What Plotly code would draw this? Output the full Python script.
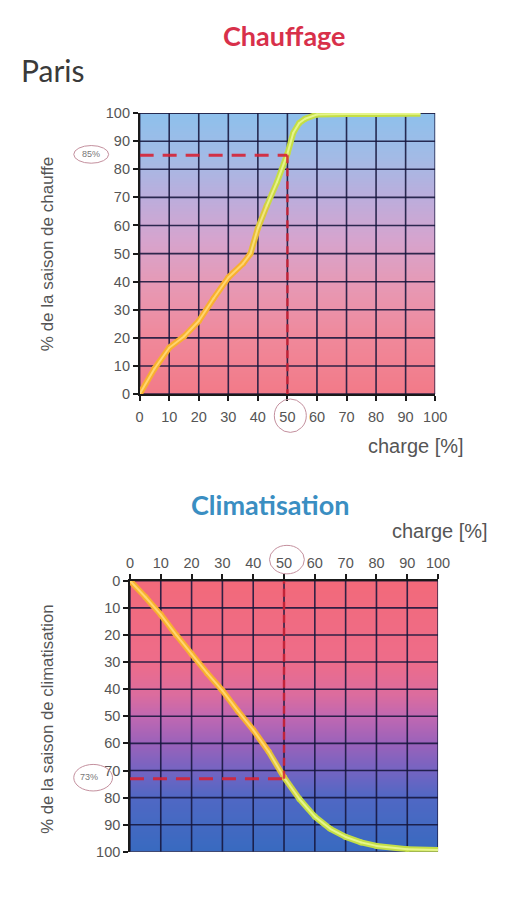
import plotly.graph_objects as go

W, H = 515, 908

# ---------------- data ----------------
axis_ticks = [0, 10, 20, 30, 40, 50, 60, 70, 80, 90, 100]
axis_tick_labels = ["0", "10", "20", "30", "40", "50", "60", "70", "80", "90", "100"]

# Chauffage: charge [%] vs % de la saison de chauffe
heat_load = [0, 5, 10, 15, 20, 25, 30, 35, 37.5, 40, 43, 46.5, 50, 52, 54, 56, 60, 70, 80, 90, 95]
heat_season = [0, 9, 16.5, 20.5, 26, 34, 41.5, 46.5, 50, 59, 67, 75.5, 85.5, 93, 96.5, 98, 99.5, 99.7, 99.7, 99.8, 99.8]

# Climatisation: charge [%] vs % de la saison de climatisation
cool_load = [0, 5, 10, 15, 20, 25, 30, 35, 40, 45, 50, 55, 60, 65, 70, 75, 80, 90, 100]
cool_season = [0, 6, 12.5, 20, 27, 34, 40.5, 48, 55, 63, 72.5, 80.5, 87, 91.5, 94.5, 96.5, 97.8, 99, 99.3]

heat_mark_load, heat_mark_season, heat_mark_label = 50, 85, "85%"
cool_mark_load, cool_mark_season, cool_mark_label = 50, 73, "73%"

bg_levels = [0, 10, 20, 30, 40, 50, 60, 70, 80, 90, 100]

# ---------------- helpers ----------------
def px(x):
    return x / W


def py(y):
    return 1 - y / H


ORANGE = (248, 176, 48)
GREEN = (196, 222, 70)
ORANGE_IN = (255, 214, 110)
GREEN_IN = (230, 245, 140)


def mix(c1, c2, t):
    t = max(0.0, min(1.0, t))
    return "rgb(%d,%d,%d)" % tuple(round(a + (b - a) * t) for a, b in zip(c1, c2))


fig = go.Figure()


def add_bg(xa, ya, colorscale):
    fig.add_trace(go.Heatmap(
        x=[axis_ticks[0], axis_ticks[-1]], y=bg_levels,
        z=[[v, v] for v in bg_levels], zmin=0, zmax=100,
        colorscale=colorscale, zsmooth="best", showscale=False,
        hoverinfo="skip", xaxis=xa, yaxis=ya))


def add_grid(xa, ya):
    gx, gy = [], []
    lo, hi = axis_ticks[0], axis_ticks[-1]
    for t in axis_ticks:
        gx += [t, t, None]
        gy += [lo, hi, None]
        gx += [lo, hi, None]
        gy += [t, t, None]
    fig.add_trace(go.Scatter(x=gx, y=gy, mode="lines",
                             line=dict(color="rgba(22,22,60,0.88)", width=1.6),
                             hoverinfo="skip", showlegend=False, xaxis=xa, yaxis=ya))


def add_curve(xs, ys, xa, ya, t0, t1):
    n = len(xs)
    for width, c_a, c_b in [(6, ORANGE, GREEN), (2, ORANGE_IN, GREEN_IN)]:
        for i in range(n - 1):
            xm = (xs[i] + xs[i + 1]) / 2
            col = mix(c_a, c_b, (xm - t0) / (t1 - t0))
            fig.add_trace(go.Scatter(x=xs[i:i + 2], y=ys[i:i + 2], mode="lines",
                                     line=dict(color=col, width=width),
                                     hoverinfo="skip", showlegend=False,
                                     xaxis=xa, yaxis=ya))
        fig.add_trace(go.Scatter(x=xs[1:-1], y=ys[1:-1], mode="markers",
                                 marker=dict(size=width, color=[mix(c_a, c_b, (v - t0) / (t1 - t0)) for v in xs[1:-1]],
                                             line=dict(width=0)),
                                 hoverinfo="skip", showlegend=False, xaxis=xa, yaxis=ya))


def add_marks(load, season, xa, ya, y_edge):
    dash = dict(color="rgba(214,34,52,0.9)", width=3, dash="14px,9px")
    fig.add_trace(go.Scatter(x=[axis_ticks[0], load], y=[season, season], mode="lines",
                             line=dash, hoverinfo="skip", showlegend=False, xaxis=xa, yaxis=ya))
    fig.add_trace(go.Scatter(x=[load, load], y=[season, y_edge], mode="lines",
                             line=dict(color="rgba(214,34,52,0.85)", width=2.5, dash="8px,5px"),
                             hoverinfo="skip", showlegend=False, xaxis=xa, yaxis=ya))


# ---------------- chauffage (top) ----------------
heat_scale = [[0.0, "#F27A88"], [0.2, "#F0889A"], [0.4, "#E69AB6"], [0.55, "#D6A4CE"],
              [0.7, "#BCADDC"], [0.85, "#A2BBE6"], [1.0, "#8EC0EC"]]
add_bg("x", "y", heat_scale)
add_grid("x", "y")
add_curve(heat_load, heat_season, "x", "y", 36, 46)
add_marks(heat_mark_load, heat_mark_season, "x", "y", axis_ticks[0])

# ---------------- climatisation (bottom) ----------------
cool_scale = [[0.0, "#F26A7A"], [0.3, "#EE6C8A"], [0.42, "#DC6C9E"], [0.5, "#C068B2"],
              [0.6, "#9A62BA"], [0.7, "#7464C2"], [0.8, "#5068C4"], [1.0, "#386AC0"]]
add_bg("x2", "y2", cool_scale)
add_grid("x2", "y2")
add_curve(cool_load, cool_season, "x2", "y2", 42, 55)
add_marks(cool_mark_load, cool_mark_season, "x2", "y2", axis_ticks[0])

# ---------------- axes ----------------
tickfont = dict(family="Liberation Sans, Arial, sans-serif", size=14.5, color="#555555")
common = dict(tickvals=axis_ticks, ticktext=axis_tick_labels, showgrid=False, zeroline=False,
              showline=True, linecolor="#1a1a1a", linewidth=1.5, ticks="outside", ticklen=5,
              tickcolor="#1a1a1a", tickwidth=1.5, tickfont=tickfont, layer="above traces",
              fixedrange=True)

fig.update_layout(
    width=W, height=H, margin=dict(l=0, r=0, t=0, b=0),
    paper_bgcolor="white", plot_bgcolor="white", showlegend=False,
    xaxis=dict(domain=[px(140), px(445)], range=[0, 100], anchor="y", ticklabelstandoff=4, **common),
    yaxis=dict(domain=[py(393), py(107)], range=[0, 100], anchor="x", **common),
    xaxis2=dict(domain=[px(130), px(448)], range=[0, 100], anchor="y2", side="top", **common),
    yaxis2=dict(domain=[py(859), py(583)], range=[100, 0], anchor="x2", **common),
)

# ---------------- texts ----------------
grey = "#555555"
ann = []
ann.append(dict(text="Paris", x=px(51), y=py(63), font=dict(family="Lato, sans-serif", size=30, color="#3a3a3a")))
ann.append(dict(text="<b>Chauffage</b>", x=px(290), y=py(28), font=dict(family="Lato, sans-serif", size=27, color="#D8304A")))
ann.append(dict(text="<b>Climatisation</b>", x=px(275), y=py(505), font=dict(family="Lato, sans-serif", size=27, color="#3A8EC2")))
ann.append(dict(text="charge [%]", x=px(425), y=py(446), font=dict(family="Liberation Sans, Arial", size=20, color=grey)))
ann.append(dict(text="charge [%]", x=px(450), y=py(532), font=dict(family="Liberation Sans, Arial", size=20, color=grey)))
ann.append(dict(text="% de la saison de chauffe", x=px(45), y=py(251), textangle=-90,
                font=dict(family="Liberation Sans, Arial", size=17, color=grey)))
ann.append(dict(text="% de la saison de climatisation", x=px(45), y=py(724), textangle=-90,
                font=dict(family="Liberation Sans, Arial", size=16.8, color=grey)))
ann.append(dict(text=heat_mark_label, x=px(90), y=py(149), font=dict(family="Liberation Sans, Arial", size=9, color="#777")))
ann.append(dict(text=cool_mark_label, x=px(88), y=py(783), font=dict(family="Liberation Sans, Arial", size=9, color="#777")))
for a in ann:
    a.update(xref="paper", yref="paper", showarrow=False, xanchor="center", yanchor="middle")
fig.update_layout(annotations=ann)

circle_line = dict(color="#C4909E", width=1)
for (x0, y0, x1, y1) in [(72, 140, 108, 158), (279, 398, 312, 432), (274, 547, 310, 576), (72, 770, 112, 797)]:
    fig.add_shape(type="circle", xref="paper", yref="paper", x0=px(x0), x1=px(x1), y0=py(y1), y1=py(y0),
                  line=circle_line, layer="above")

fig.write_html("out.html")
